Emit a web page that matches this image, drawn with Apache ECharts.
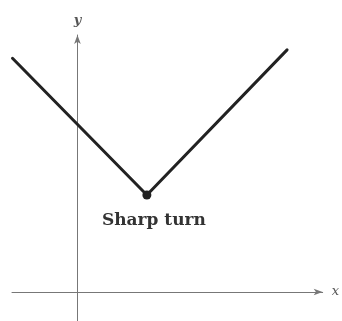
<!DOCTYPE html>
<html>
<head>
<meta charset="utf-8">
<script src="https://cdn.jsdelivr.net/npm/echarts@6/dist/echarts.min.js"></script>
<style>
  html, body { margin: 0; padding: 0; background: #fff; }
  #chart { width: 342px; height: 321px; }
</style>
</head>
<body>
<div id="chart"></div>
<script>
// points of the V
var xValues = [-1.9, 2.03, 6.13];
var yValues = [7.23, 3, 7.49];
var pointLabels = ['', 'Sharp turn', ''];

var chart = echarts.init(document.getElementById('chart'));

var data = xValues.map(function (x, i) {
  var isTurn = pointLabels[i] !== '';
  return {
    value: [x, yValues[i]],
    symbol: isTurn ? 'circle' : 'none',
    label: { show: isTurn }
  };
});

chart.setOption({
  animation: false,
  grid: { left: 12, right: 12, top: 35, bottom: 0 },
  xAxis: {
    type: 'value',
    min: -1.914,
    max: 7.171,
    name: 'x',
    nameLocation: 'end',
    nameGap: 9,
    nameTextStyle: { fontFamily: 'DejaVu Serif', fontStyle: 'italic', fontSize: 13, color: '#555' },
    axisLine: { onZero: true, symbol: ['none', 'arrow'], symbolSize: [5, 9], lineStyle: { color: '#777', width: 1 } },
    axisTick: { show: false },
    axisLabel: { show: false },
    splitLine: { show: false }
  },
  yAxis: {
    type: 'value',
    min: -0.897,
    max: 7.949,
    name: 'y',
    nameLocation: 'end',
    nameGap: 8,
    nameTextStyle: { fontFamily: 'DejaVu Serif', fontStyle: 'italic', fontWeight: 'bold', fontSize: 13, color: '#555', align: 'center' },
    axisLine: { onZero: true, symbol: ['none', 'arrow'], symbolSize: [5, 9], lineStyle: { color: '#777', width: 1 } },
    axisTick: { show: false },
    axisLabel: { show: false },
    splitLine: { show: false }
  },
  series: [{
    type: 'line',
    data: data,
    symbolSize: 9,
    itemStyle: { color: '#222' },
    lineStyle: { color: '#222', width: 3, cap: 'round', join: 'round' },
    label: {
      position: 'bottom',
      distance: 13,
      offset: [7, 0],
      formatter: function (p) { return pointLabels[p.dataIndex]; },
      fontFamily: 'DejaVu Serif',
      fontWeight: 'bold',
      fontSize: 17,
      color: '#333'
    },
    emphasis: { disabled: true }
  }]
});
</script>
</body>
</html>
